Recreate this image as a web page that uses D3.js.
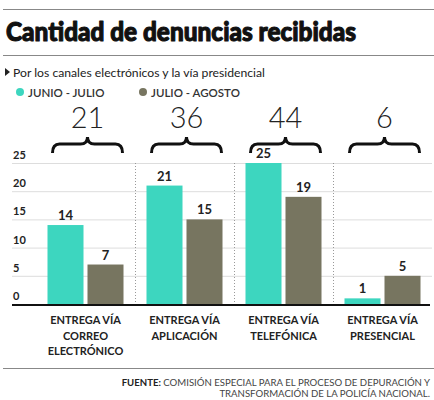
<!DOCTYPE html>
<html><head><meta charset="utf-8">
<script src="https://cdn.jsdelivr.net/npm/d3@7"></script>
<style>
body{margin:0;background:#fff;}
svg{display:block;}
</style></head>
<body>
<script>
const categories = [["ENTREGA VÍA","CORREO","ELECTRÓNICO"],["ENTREGA VÍA","APLICACIÓN"],["ENTREGA VÍA","TELEFÓNICA"],["ENTREGA VÍA","PRESENCIAL"]];
const seriesNames = ["JUNIO - JULIO","JULIO - AGOSTO"];
const junioJulio = [14,21,25,1];
const julioAgosto = [7,15,19,5];
const totals = [21,36,44,6];
const yTicks = [0,5,10,15,20,25];
const colors = ["#3dd6bf","#777560"];

const W=434,H=400;
const svg=d3.select("body").append("svg").attr("width",W).attr("height",H);
const font="Lato, 'Open Sans', sans-serif";

// header rules
svg.append("line").attr("x1",3).attr("x2",434).attr("y1",9.5).attr("y2",9.5).attr("stroke","#888").attr("stroke-width",1);
svg.append("text").attr("x",6).attr("y",41).attr("font-family",font).attr("font-weight",900).attr("font-size",26)
  .attr("fill","#111").attr("stroke","#111").attr("stroke-width",1.1).attr("stroke-linejoin","round")
  .attr("textLength",350).attr("lengthAdjust","spacingAndGlyphs")
  .text("Cantidad de denuncias recibidas");
svg.append("line").attr("x1",3).attr("x2",434).attr("y1",55.5).attr("y2",55.5).attr("stroke","#888").attr("stroke-width",1);

// subtitle
svg.append("path").attr("d","M5,68 L10,72 L5,76 Z").attr("fill","#222");
svg.append("text").attr("x",13).attr("y",76.5).attr("font-family",font).attr("font-size",12.2).attr("fill","#222")
  .text("Por los canales electrónicos y la vía presidencial");

// legend
const legX=[20,143];
seriesNames.forEach((s,i)=>{
  svg.append("circle").attr("cx",legX[i]).attr("cy",92).attr("r",4).attr("fill",colors[i]);
  svg.append("text").attr("x",legX[i]+8).attr("y",96.5).attr("font-family",font).attr("font-weight",600).attr("font-size",11.5).attr("fill","#333").text(s);
});

// scales
const x0=d3.scaleBand().domain(d3.range(categories.length)).range([36,432]).padding(0);
const x1=d3.scaleBand().domain([0,1]).range([0,x0.bandwidth()]).paddingInner(0.1).paddingOuter(0.2875);
const y=d3.scaleLinear().domain([0,25]).range([304,163]);

// gridlines & tick labels
const g=svg.append("g");
yTicks.forEach(t=>{
  if(t>0) g.append("line").attr("x1",12).attr("x2",432).attr("y1",y(t)+0.5).attr("y2",y(t)+0.5).attr("stroke","#ddd").attr("stroke-width",1);
  g.append("text").attr("x",13).attr("y",y(t)-4).attr("font-family",font).attr("font-weight",700).attr("font-size",11).attr("fill","#222").text(t);
});

// separators
d3.range(1,categories.length).forEach(i=>{
  g.append("line").attr("x1",x0(i)+0.5).attr("x2",x0(i)+0.5).attr("y1",y(25)).attr("y2",y(0)).attr("stroke","#999").attr("stroke-width",1).attr("stroke-dasharray","1,2");
});

// bars
const data=[junioJulio,julioAgosto];
categories.forEach((c,i)=>{
  data.forEach((ser,k)=>{
    const v=ser[i];
    const bx=x0(i)+x1(k);
    g.append("rect").attr("x",bx).attr("y",y(v)).attr("width",x1.bandwidth()).attr("height",y(0)-y(v)).attr("fill",colors[k]);
    g.append("text").attr("x",bx+x1.bandwidth()/2).attr("y",y(v)-5).attr("text-anchor","middle")
      .attr("font-family",font).attr("font-weight",700).attr("font-size",13).attr("fill","#222").text(v);
  });
  // brace + total
  const cx=x0(i)+x0.bandwidth()/2;
  const a=x0(i)+x1(0)+5, b=x0(i)+x1(1)+x1.bandwidth()-1;
  const yE=153, yA=144, yT=137, q=7;
  const mid=(a+b)/2;
  g.append("path").attr("d",`M${a},${yE} Q${a},${yA} ${a+q},${yA} L${mid-q},${yA} Q${mid},${yA} ${mid},${yT} Q${mid},${yA} ${mid+q},${yA} L${b-q},${yA} Q${b},${yA} ${b},${yE}`)
    .attr("fill","none").attr("stroke","#111").attr("stroke-width",3);
  g.append("text").attr("x",mid).attr("y",128).attr("text-anchor","middle").attr("font-family",font).attr("font-weight",300).attr("font-size",29).attr("fill","#222").text(totals[i]);
  // category label
  const t=g.append("text").attr("text-anchor","middle").attr("font-family",font).attr("font-weight",700).attr("font-size",11).attr("fill","#222");
  c.forEach((line,j)=>t.append("tspan").attr("x",cx).attr("y",324+j*15.5).text(line));
});

// axis baseline
g.append("line").attr("x1",12).attr("x2",430).attr("y1",y(0)+1).attr("y2",y(0)+1).attr("stroke","#111").attr("stroke-width",2);

// footer
svg.append("line").attr("x1",3).attr("x2",434).attr("y1",368.5).attr("y2",368.5).attr("stroke","#888").attr("stroke-width",1);
const f1=svg.append("text").attr("x",430).attr("y",386).attr("text-anchor","end").attr("font-family",font).attr("font-size",9.6).attr("fill","#444");
f1.append("tspan").attr("font-weight",700).attr("fill","#222").text("FUENTE:");
f1.append("tspan").text(" COMISIÓN ESPECIAL PARA EL PROCESO DE DEPURACIÓN Y");
svg.append("text").attr("x",430).attr("y",397).attr("text-anchor","end").attr("font-family",font).attr("font-size",9.6).attr("fill","#444")
  .text("TRANSFORMACIÓN DE LA POLICÍA NACIONAL.");
</script>
</body></html>
